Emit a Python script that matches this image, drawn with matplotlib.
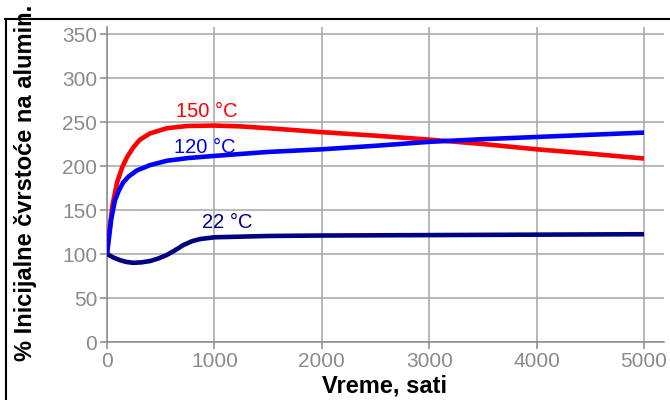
import matplotlib
matplotlib.use('Agg')
import matplotlib.pyplot as plt
from matplotlib.lines import Line2D

plt.rcParams['font.family'] = ['Liberation Sans', 'DejaVu Sans']

# 150 C curve
t_150 = [0, 20, 50, 93, 140, 186, 250, 307, 400, 558, 750, 1000, 1250, 1500,
         2000, 2500, 3000, 3500, 4000, 4500, 5000]
v_150 = [100, 125, 155, 181, 198, 210, 222, 230, 237, 243, 245.5, 246, 245, 243,
         238.5, 234.5, 230, 225, 219, 214, 208.5]

# 120 C curve
t_120 = [0, 20, 40, 74, 110, 149, 200, 279, 400, 558, 750, 1000, 1500, 2000,
         2500, 3000, 3500, 4000, 4500, 5000]
v_120 = [100, 120, 140, 161, 172, 181, 188, 195, 201, 206, 209, 211.5, 216, 219,
         223, 227.5, 230.5, 233, 235.5, 238]

# 22 C curve
t_22 = [0, 60, 121, 180, 242, 320, 400, 480, 558, 630, 708, 790, 866, 1000,
        1500, 2000, 3000, 4000, 5000]
v_22 = [100, 96, 93, 91, 90, 90.5, 92, 95, 99, 104, 110, 114.5, 117, 119,
        120.5, 121, 121.5, 122, 122.5]

xticks = [0, 1000, 2000, 3000, 4000, 5000]
yticks = [0, 50, 100, 150, 200, 250, 300, 350]

gray = '#8a8a8a'

fig = plt.figure(figsize=(6.7, 4.0), dpi=100)
ax = fig.add_axes([107/670, 1 - 342/400, (664 - 107)/670, (342 - 27)/400])

ax.plot(t_150, v_150, color='#ff0000', lw=3.3, solid_capstyle='butt', zorder=3)
ax.plot(t_120, v_120, color='#0000ff', lw=3.3, solid_capstyle='butt', zorder=4)
ax.plot(t_22, v_22, color='#000080', lw=3.3, solid_capstyle='butt', zorder=3)

ax.text(931, 256, '150 °C', color='#ff0000', fontsize=14.5, ha='center', va='baseline')
ax.text(912, 215, '120 °C', color='#0000ff', fontsize=14.5, ha='center', va='baseline')
ax.text(1117, 129.5, '22 °C', color='#000080', fontsize=14.5, ha='center', va='baseline')

ax.set_xlim(0, 5186)
ax.set_ylim(0, 358)
ax.set_xticks(xticks)
ax.set_yticks(yticks)
ax.grid(True, color='#a6a6a6', lw=1.1)
ax.set_axisbelow(True)
for s in ['top', 'right']:
    ax.spines[s].set_visible(False)
for s in ['left', 'bottom']:
    ax.spines[s].set_color(gray)
    ax.spines[s].set_linewidth(1.1)
ax.tick_params(colors=gray, labelcolor=gray, labelsize=15, length=5, width=1.1, pad=2)

fig.text(385/670, 1 - 392/400, 'Vreme, sati', fontsize=17, fontweight='bold',
         ha='center', va='baseline')
fig.text(26/670, 1 - 183/400, '% Inicijalne čvrstoće na alumin.', fontsize=17,
         fontweight='bold', rotation=90, ha='center', va='center')

# partial frame around the figure
fig.add_artist(Line2D([5/670, 1], [1 - 19/400, 1 - 19/400], color='black', lw=1.5,
                      transform=fig.transFigure))
fig.add_artist(Line2D([6/670, 6/670], [0, 1 - 19/400], color='black', lw=1.5,
                      transform=fig.transFigure))

fig.savefig('out.png', dpi=100)
